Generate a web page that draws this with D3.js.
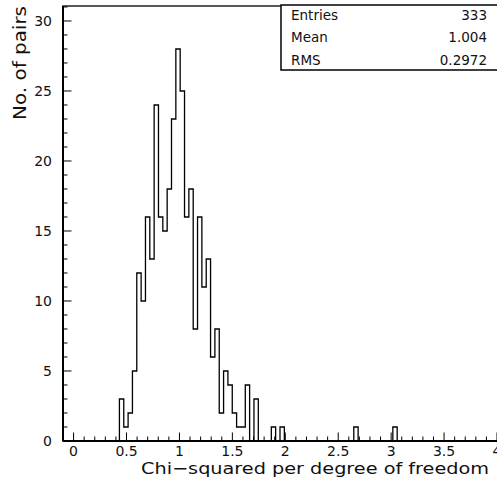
<!DOCTYPE html>
<html>
<head>
<meta charset="utf-8">
<script src="https://cdn.jsdelivr.net/npm/d3@7"></script>
<style>
  html, body { margin: 0; padding: 0; background: #fff; }
  svg { display: block; }
  text { font-family: "DejaVu Sans", "Liberation Sans", sans-serif; fill: #111; }
</style>
</head>
<body>
<svg id="chart" width="497" height="487"></svg>
<script>
// ---- data ----
const binLow = -0.1;
const binHigh = 4.0;
const counts = [
  0,0,0,0,0,0,0,0,0,0,0,0,0,
  3,1,2,5,12,10,16,13,24,16,15,18,23,28,25,16,18,8,16,11,13,6,8,2,5,4,2,1,1,4,0,3,0,0,0,1,0,1,
  0,0,0,0,0,0,0,0,0,0,0,0,0,0,0,0,
  1,
  0,0,0,0,0,0,0,0,
  1,
  0,0,0,0,0,0,0,0,0,0,0,0,0,0,0,0,0,0,0,0,0,0,0
];
const xTickValues = [0, 0.5, 1, 1.5, 2, 2.5, 3, 3.5, 4];
const xTickLabels = ["0", "0.5", "1", "1.5", "2", "2.5", "3", "3.5", "4"];
const yTickValues = [0, 5, 10, 15, 20, 25, 30];
const statsLabels = ["Entries", "Mean", "RMS"];
const statsValues = ["333", "1.004", "0.2972"];
const xTitle = "Chi\u2212squared per degree of freedom";
const yTitle = "No. of pairs";

// ---- layout ----
const svg = d3.select("#chart");
const L = 63, R = 497, T = 6, B = 441;
const x = d3.scaleLinear().domain([binLow, binHigh]).range([L, R]);
const y = d3.scaleLinear().domain([0, 31.07]).range([B, T]);
const nb = counts.length;
const bw = (binHigh - binLow) / nb;

// frame
svg.append("rect").attr("x", L).attr("y", T).attr("width", R - L + 1).attr("height", B - T)
  .attr("fill", "none").attr("stroke", "#222").attr("stroke-width", 1.5);

// histogram step outline
const pts = [[binLow, 0]];
counts.forEach((c, i) => pts.push([binLow + i * bw, c]));
pts.push([binHigh, counts[nb - 1]]);
pts.push([binHigh, 0]);
const line = d3.line().x(d => x(d[0])).y(d => y(d[1])).curve(d3.curveStepAfter);
svg.append("path").attr("d", line(pts)).attr("fill", "none")
  .attr("stroke", "#000").attr("stroke-width", 1.3);

// x axis
const xMinor = d3.range(-1, 41).map(v => v / 10);
const gx = svg.append("g");
gx.append("line").attr("x1", L).attr("x2", R).attr("y1", B).attr("y2", B)
  .attr("stroke", "#000").attr("stroke-width", 2);
gx.selectAll("line.minor").data(xMinor).enter().append("line")
  .attr("x1", d => x(d)).attr("x2", d => x(d))
  .attr("y1", B).attr("y2", d => (Math.abs(d * 2 - Math.round(d * 2)) < 1e-6) ? B - 8.5 : B - 4.5)
  .attr("stroke", "#000").attr("stroke-width", 1);
gx.selectAll("text").data(xTickValues).enter().append("text")
  .attr("x", d => x(d)).attr("y", 456).attr("text-anchor", "middle")
  .attr("font-size", 14).text((d, i) => xTickLabels[i]);

// y axis
const yMinor = d3.range(0, 32);
const gy = svg.append("g");
gy.append("line").attr("x1", L).attr("x2", L).attr("y1", T).attr("y2", B)
  .attr("stroke", "#000").attr("stroke-width", 2);
gy.selectAll("line.minor").data(yMinor).enter().append("line")
  .attr("x1", L).attr("x2", d => d % 5 === 0 ? L + 8.5 : L + 4.5)
  .attr("y1", d => y(d)).attr("y2", d => y(d))
  .attr("stroke", "#000").attr("stroke-width", 1);
gy.selectAll("text").data(yTickValues).enter().append("text")
  .attr("x", 52).attr("y", d => y(d) + 5).attr("text-anchor", "end")
  .attr("font-size", 14).text(d => d);

// titles
svg.append("text").attr("x", 141).attr("y", 474).attr("font-size", 16)
  .attr("textLength", 348).attr("lengthAdjust", "spacingAndGlyphs").text(xTitle);
svg.append("text").attr("transform", "translate(26,120) rotate(-90)")
  .attr("font-size", 17).attr("textLength", 114).attr("lengthAdjust", "spacingAndGlyphs")
  .text(yTitle);

// stats box
const sb = svg.append("g");
sb.append("rect").attr("x", 281).attr("y", 5).attr("width", 220).attr("height", 65)
  .attr("fill", "#fff").attr("stroke", "#000").attr("stroke-width", 1.5);
const rowY = [19.5, 42, 64.5];
statsLabels.forEach((s, i) => {
  sb.append("text").attr("x", 291).attr("y", rowY[i]).attr("font-size", 13.5).text(s);
  sb.append("text").attr("x", 487).attr("y", rowY[i]).attr("font-size", 13.5)
    .attr("text-anchor", "end").text(statsValues[i]);
});
</script>
</body>
</html>
